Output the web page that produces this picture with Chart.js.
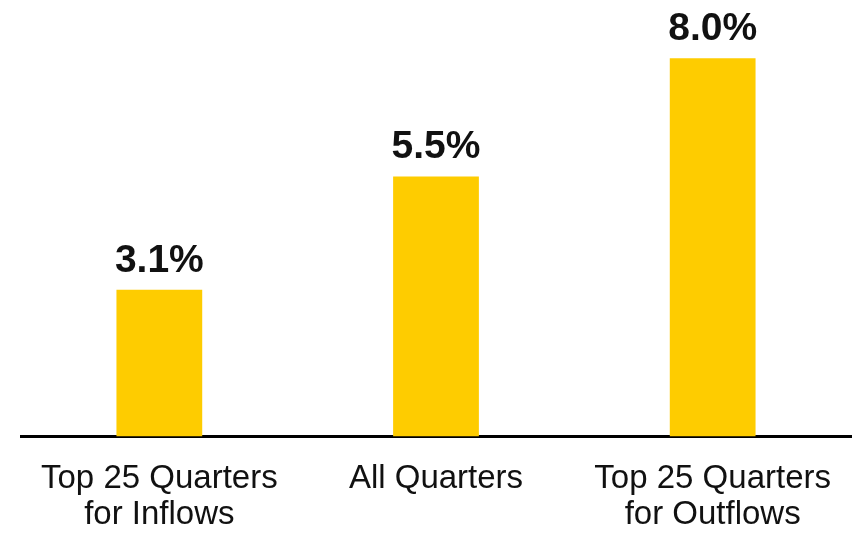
<!DOCTYPE html>
<html>
<head>
<meta charset="utf-8">
<script src="https://cdn.jsdelivr.net/npm/chart.js@4/dist/chart.umd.min.js"></script>
<style>
  html, body { margin: 0; padding: 0; background: #fff; }
  #wrap { width: 857px; height: 534px; }
</style>
</head>
<body>
<div id="wrap"><canvas id="chart" width="857" height="534"></canvas></div>
<script>
const categories = [
  ["Top 25 Quarters", "for Inflows"],
  ["All Quarters"],
  ["Top 25 Quarters", "for Outflows"]
];
const returns = [3.1, 5.5, 8.0];

// percentage labels over each bar
const valueLabels = {
  id: "valueLabels",
  afterDatasetsDraw(chart) {
    const ctx = chart.ctx;
    const meta = chart.getDatasetMeta(0);
    ctx.save();
    ctx.font = "bold 39px 'Liberation Sans', Arial, sans-serif";
    ctx.fillStyle = "#111";
    ctx.textAlign = "center";
    ctx.textBaseline = "alphabetic";
    meta.data.forEach((bar, i) => {
      ctx.fillText(returns[i].toFixed(1) + "%", bar.x, bar.y - 18);
    });
    ctx.restore();
  }
};

new Chart(document.getElementById("chart"), {
  type: "bar",
  data: {
    labels: categories,
    datasets: [{
      data: returns,
      backgroundColor: "#FECC00",
      borderWidth: 0,
      barPercentage: 0.31,
      categoryPercentage: 1
    }]
  },
  options: {
    responsive: false,
    animation: false,
    layout: { padding: { left: 21, right: 6, top: 11, bottom: 2 } },
    plugins: { legend: { display: false }, tooltip: { enabled: false } },
    scales: {
      x: {
        grid: { display: false, drawTicks: false },
        border: { display: true, color: "#000", width: 3 },
        afterFit(scale) { scale.height -= 25; },
        ticks: {
          color: "#111",
          padding: 24,
          maxRotation: 0,
          autoSkip: false,
          font: { family: "'Liberation Sans', Arial, sans-serif", size: 33, lineHeight: 1.1 }
        }
      },
      y: {
        display: false,
        min: 0,
        max: 9
      }
    }
  },
  plugins: [valueLabels]
});
</script>
</body>
</html>
